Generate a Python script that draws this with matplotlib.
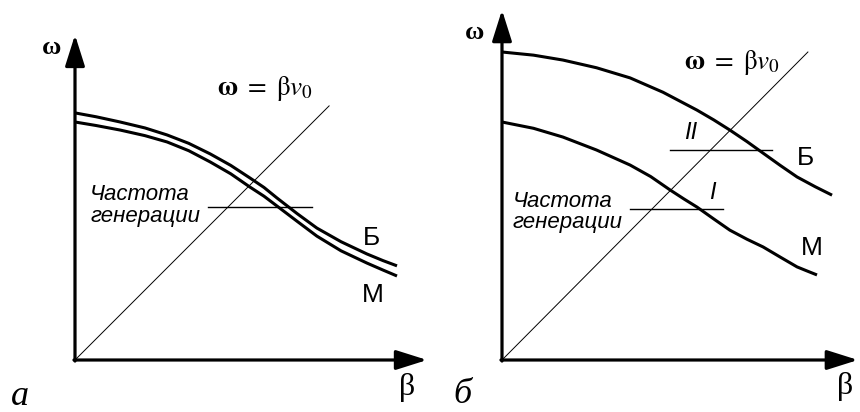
import matplotlib
matplotlib.use("Agg")
import matplotlib.pyplot as plt

plt.rcParams['mathtext.fontset'] = 'stix'

# chart units: 1 unit = 35 px, origin of each panel at (0, 0)
# panel "а"
a_beta = [0, 0.6, 1.29, 2.0, 2.63, 3.25, 3.86, 4.45, 5.0, 5.4, 5.77, 6.35, 6.91, 7.6, 8.34, 8.8, 9.2]
a_big = [7.06, 6.95, 6.80, 6.63, 6.43, 6.19, 5.89, 5.56, 5.2, 4.93, 4.63, 4.18, 3.77, 3.38, 3.03, 2.84, 2.69]
a_small = [6.8, 6.70, 6.57, 6.41, 6.23, 5.98, 5.66, 5.32, 4.94, 4.68, 4.4, 3.96, 3.54, 3.12, 2.77, 2.57, 2.4]
a_line_end = 7.26
a_gen = 4.37
a_gen_span = [3.8, 6.77]

# panel "б"
b_beta_big = [0, 0.9, 1.74, 2.7, 3.66, 4.6, 5.57, 6.05, 6.51, 7.0, 7.46, 7.95, 8.43, 8.95, 9.43]
b_big = [8.8, 8.71, 8.57, 8.35, 8.06, 7.65, 7.14, 6.86, 6.57, 6.24, 5.91, 5.56, 5.23, 4.95, 4.71]
b_beta_small = [0, 0.9, 1.74, 2.7, 3.66, 4.25, 4.8, 5.2, 5.57, 6.05, 6.51, 7.0, 7.46, 7.95, 8.43, 8.7, 9.0]
b_small = [6.8, 6.62, 6.37, 6.0, 5.57, 5.24, 4.86, 4.6, 4.37, 4.03, 3.71, 3.45, 3.23, 2.94, 2.66, 2.55, 2.43]
b_line_end = [8.74, 8.8]
b_gen_II = 6.0
b_gen_II_span = [4.8, 7.71]
b_gen_I = 4.31
b_gen_I_span = [3.66, 6.31]

fig = plt.figure(figsize=(8.6, 4.12), dpi=100)
ax1 = fig.add_axes([0, 0, 0.5, 1])
ax2 = fig.add_axes([0.5, 0, 0.5, 1])
ax1.set_xlim(-75 / 35, 355 / 35)
ax2.set_xlim(-72 / 35, 358 / 35)
for ax in (ax1, ax2):
    ax.set_ylim(-52 / 35, 360 / 35)
    ax.axis('off')

serif = 'Liberation Serif'
sans = 'Liberation Sans'
formula = r'$\mathbf{\omega}\ =\ \mathrm{\beta}\mathit{v}_0$'


def draw_axes(ax, xtip, ytip):
    arr = dict(arrowstyle='-|>,head_length=0.95,head_width=0.3',
               lw=2.3, color='k', shrinkA=0, shrinkB=0, mutation_scale=20)
    ax.annotate('', xy=(xtip, 0), xytext=(-0.03, 0), arrowprops=arr)
    ax.annotate('', xy=(0, ytip), xytext=(0, -0.03), arrowprops=arr)


def curve(ax, x, y):
    ax.plot(x, y, color='k', lw=2.2, solid_joinstyle='round', solid_capstyle='butt')


# --- panel а ---
draw_axes(ax1, 10.06, 9.29)
ax1.plot([0, a_line_end], [0, a_line_end], color='k', lw=0.7)
curve(ax1, a_beta, a_big)
curve(ax1, a_beta, a_small)
ax1.plot(a_gen_span, [a_gen, a_gen], color='k', lw=1.0)
ax1.text(-0.66, 8.93, 'ω', family=serif, weight='bold', fontsize=19, ha='center', va='center')
ax1.text(9.49, -0.78, 'β', family=serif, fontsize=23, ha='center', va='center')
ax1.text(-1.57, -1.05, 'а', family=serif, style='italic', fontsize=26, ha='center', va='center')
ax1.text(4.06, 7.77, formula, fontsize=19.5, ha='left', va='center')
ax1.text(0.43, 4.57, 'Частота', family=sans, style='italic', fontsize=16, ha='left', va='baseline')
ax1.text(0.43, 3.94, 'генерации', family=sans, style='italic', fontsize=16, ha='left', va='baseline')
ax1.text(8.46, 3.49, 'Б', family=sans, fontsize=19, ha='center', va='center')
ax1.text(8.51, 1.86, 'М', family=sans, fontsize=19, ha='center', va='center')

# --- panel б ---
draw_axes(ax2, 10.17, 10.0)
ax2.plot([0, b_line_end[0]], [0, b_line_end[1]], color='k', lw=0.7)
curve(ax2, b_beta_big, b_big)
curve(ax2, b_beta_small, b_small)
ax2.plot(b_gen_II_span, [b_gen_II, b_gen_II], color='k', lw=1.0)
ax2.plot(b_gen_I_span, [b_gen_I, b_gen_I], color='k', lw=1.0)
ax2.text(-0.77, 9.36, 'ω', family=serif, weight='bold', fontsize=19, ha='center', va='center')
ax2.text(9.8, -0.75, 'β', family=serif, fontsize=23, ha='center', va='center')
ax2.text(-1.14, -0.98, 'б', family=serif, style='italic', fontsize=26, ha='center', va='center')
ax2.text(5.2, 8.49, formula, fontsize=19.5, ha='left', va='center')
ax2.text(0.31, 4.37, 'Частота', family=sans, style='italic', fontsize=16, ha='left', va='baseline')
ax2.text(0.31, 3.77, 'генерации', family=sans, style='italic', fontsize=16, ha='left', va='baseline')
ax2.text(8.66, 5.77, 'Б', family=sans, fontsize=19, ha='center', va='center')
ax2.text(8.86, 3.2, 'М', family=sans, fontsize=19, ha='center', va='center')
ax2.text(5.4, 6.49, 'II', family=sans, style='italic', fontsize=17, ha='center', va='center')
ax2.text(6.0, 4.8, 'I', family=sans, style='italic', fontsize=17, ha='center', va='center')

fig.savefig('out.png', dpi=100)
